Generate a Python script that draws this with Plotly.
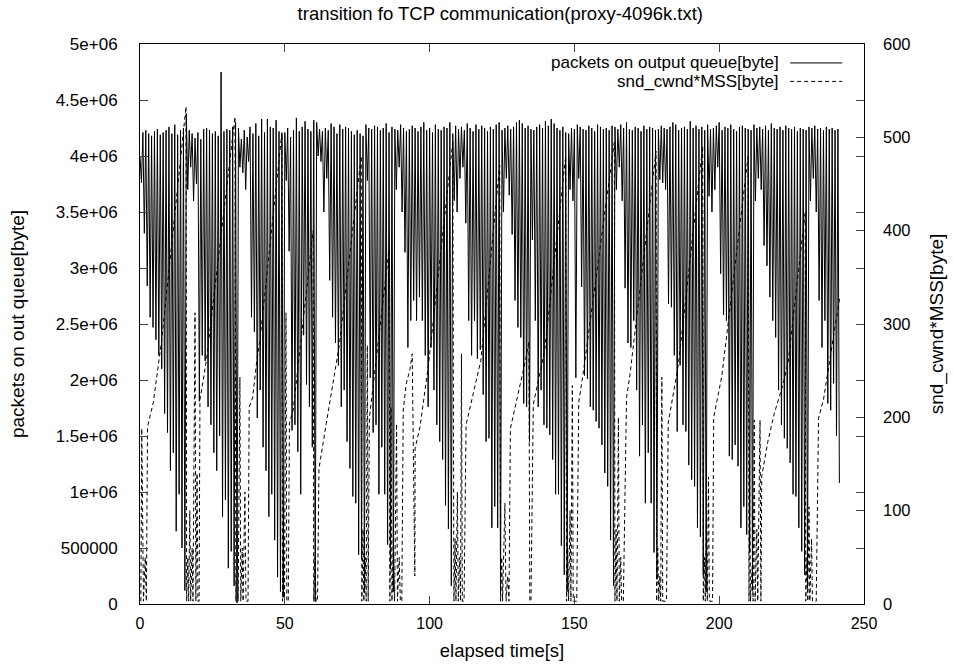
import plotly.graph_objects as go

# output queue, sampled every 0.5 s: peak at t=k, trough at t=k+0.5 (kbyte)
queue_peak_kb = [
    4000, 4210, 4230, 4200, 4180, 4220, 4240, 4190, 4210, 4230, 4260, 4200, 4280, 4190, 4230, 4250, 4380, 4230, 4200, 4160,
    4210, 4150, 4240, 4250, 4230, 4200, 4220, 4180, 4750, 4220, 4240, 4230, 4260, 4300, 4250, 4150, 4230, 4170, 4260, 4200,
    4290, 4180, 4330, 4210, 4330, 4260, 4250, 4320, 4220, 4200, 4210, 4250, 4170, 4230, 4340, 4220, 4260, 4310, 4240, 4220,
    4320, 4300, 4240, 4220, 4250, 4230, 4290, 4260, 4200, 4280, 4240, 4260, 4250, 4220, 4190, 4230, 4200, 4180, 4280, 4250,
    4240, 4270, 4260, 4230, 4250, 4290, 4210, 4260, 4240, 4230, 4280, 4250, 4220, 4240, 4270, 4250, 4220, 4260, 4300, 4230,
    4250, 4210, 4280, 4240, 4230, 4260, 4250, 4300, 4200, 4270, 4240, 4260, 4230, 4290, 4250, 4220, 4280, 4240, 4270, 4250,
    4220, 4260, 4240, 4280, 4300, 4230, 4250, 4270, 4240, 4260, 4300, 4320, 4290, 4250, 4270, 4240, 4230, 4260, 4280, 4250,
    4310, 4270, 4330, 4290, 4250, 4230, 4260, 4210, 4200, 4250, 4240, 4280, 4260, 4240, 4230, 4270, 4250, 4220, 4280, 4260,
    4240, 4250, 4230, 4270, 4260, 4240, 4280, 4250, 4300, 4240, 4230, 4260, 4250, 4220, 4270, 4240, 4260, 4250, 4230, 4240,
    4270, 4250, 4240, 4260, 4300, 4280, 4230, 4250, 4260, 4240, 4310, 4250, 4270, 4240, 4260, 4230, 4280, 4240, 4250, 4270,
    4300, 4230, 4260, 4250, 4280, 4240, 4220, 4260, 4270, 4250, 4240, 4230, 4280, 4250, 4260, 4240, 4270, 4230, 4290, 4250,
    4240, 4260, 4230, 4270, 4250, 4240, 4260, 4220, 4250, 4240, 4230, 4260, 4250, 4270, 4240, 4250, 4230, 4260, 4240, 4250,
    4230, 4240,
]
queue_trough_kb = [
    3760, 3310, 2840, 2560, 2470, 2360, 2220, 2100, 1700, 1530, 1190, 1350, 650, 980, 500, 120,
    3700, 3900, 3600, 3750,
    1810, 2220, 2170, 1760, 1600, 1350, 1190, 1500, 780, 930, 320, 470, 160,
    10,
    3900, 3850, 3700, 3950,
    2560, 2430, 1660, 1910, 1400, 1190, 780, 980, 570, 240, 110, 60,
    3780, 3150, 1550, 1600, 1360, 980, 2400, 1960, 1760, 1400,
    20,
    4000, 3950, 3500, 3800,
    2890, 2560, 2330, 2130, 1760, 1910, 1450, 1210, 960, 900, 440, 400,
    100,
    3780, 2020, 1530, 1600, 980, 1400, 980, 530, 310, 110,
    3700, 3900, 3500,
    3140, 2290, 2530, 2710, 2530, 2740, 2530, 2220, 1760, 2290, 1910, 1600, 1450, 1290, 880, 670, 160,
    3600, 3500, 3800, 3900, 3400,
    2530, 2220, 2530, 2190, 2270, 1870, 1450, 1480, 680, 870, 680, 110,
    3500, 3800, 3650, 3300,
    2710, 2470, 2380, 1790, 1760, 1450,
    3250, 2530, 1760, 1910, 1600, 1570, 1510, 1290, 980, 980, 520, 260,
    110,
    3700, 3600, 2020, 3800,
    2830, 2040, 2010, 1760, 1730, 1630, 1570, 1420, 1170, 1050, 570, 160,
    3700, 3900, 3600,
    2820, 2330, 2290, 2530, 1910, 1320, 1600, 900, 1350, 900, 460, 220,
    3790, 3760, 3700,
    2680, 2650, 2220, 1540, 2130, 1600, 1540, 1240, 1110, 1050, 680, 600, 260, 110,
    3640, 3500, 3700, 3900,
    2950, 2580, 2530, 1320, 1290, 1420, 1230, 680, 870, 620, 460, 120,
    3600, 3800, 3700,
    3200, 3020, 2740, 2530, 2380, 1910, 1600, 1480, 1390, 1260, 980, 960, 680, 470, 260, 140,
    3600, 3800, 3500,
    2710, 2290, 2530, 1790, 1730, 1970, 1500, 1080,
]

# snd_cwnd samples (time [s], value)
cwnd_t = [
    0.3, 0.6, 1.2, 1.8, 2.2, 2.6, 4.6, 5.5, 6.3, 7.5, 15.9,
    16.1, 16.5, 16.8, 17.2, 17.5, 18.0, 18.3, 19.0, 19.3, 19.7, 20.0, 20.4, 20.7, 21.9, 23.0, 32.8,
    33.1, 33.5, 33.9, 34.5, 34.8, 35.3, 35.6, 36.2, 36.6, 37.3, 37.7, 38.9, 40.3, 41.4, 49.0,
    49.2, 49.6, 49.9, 50.4, 50.7, 51.2, 51.6, 52.9, 59.8,
    60.0, 60.4, 60.8, 61.3, 61.8, 64.3, 66.6, 67.7, 68.8, 76.4,
    76.6, 77.0, 77.3, 77.8, 78.1, 78.5, 78.8, 79.2, 86.0,
    86.3, 86.7, 87.0, 87.5, 87.9, 88.6, 88.9, 89.5, 89.9, 90.4, 90.9, 92.0, 93.2, 94.0, 94.9, 95.0, 96.7, 98.4, 99.6, 108.0,
    108.4, 108.8, 109.1, 109.6, 109.9, 110.4, 110.7, 111.0, 111.3, 111.9, 112.6, 117.7, 124.2,
    124.5, 124.9, 125.2, 126.0, 126.4, 127.0, 127.4, 127.9, 131.4, 133.0, 134.3, 134.6, 135.0, 135.8, 139.7, 147.0,
    147.3, 147.7, 148.0, 148.5, 148.8, 149.3, 149.6, 150.8, 151.5, 153.2, 163.8,
    164.0, 164.4, 164.7, 165.2, 165.5, 166.0, 166.3, 166.9, 168.0, 169.2, 178.2,
    178.4, 178.8, 179.1, 179.5, 179.8, 180.2, 180.5, 181.8, 182.4, 183.2, 185.0, 186.0, 194.3,
    194.5, 194.9, 195.2, 195.6, 195.9, 196.3, 196.6, 197.7, 198.1, 200.9, 210.0,
    210.3, 210.5, 210.8, 211.4, 211.7, 212.1, 212.4, 213.0, 213.3, 214.1, 214.4, 214.7, 216.8, 219.0, 222.0, 223.8, 229.7,
    229.9, 230.3, 230.6, 231.0, 231.3, 231.9, 232.2, 233.5, 234.3, 236.0, 241.7,
]
cwnd = [
    3, 188, 3, 50, 3, 190, 216, 238, 260, 283, 533,
    3, 50, 3, 100, 3, 60, 3, 312, 3, 140, 3, 3, 219, 241, 263, 522,
    3, 80, 3, 243, 3, 60, 3, 120, 3, 3, 211, 221, 260, 282, 505,
    3, 100, 3, 312, 3, 3, 194, 208, 400,
    3, 50, 3, 3, 145, 193, 236, 260, 277, 480,
    3, 80, 3, 50, 3, 277, 3, 199, 380,
    3, 211, 3, 70, 3, 193, 3, 50, 3, 3, 208, 237, 251, 268, 30, 167, 190, 230, 256, 495,
    3, 70, 3, 120, 3, 50, 3, 268, 3, 3, 192, 261, 470,
    3, 50, 3, 108, 3, 30, 3, 188, 237, 259, 281, 3, 3, 214, 271, 480,
    3, 60, 3, 100, 3, 234, 3, 3, 216, 251, 495,
    3, 80, 3, 200, 3, 50, 3, 3, 221, 246, 485,
    3, 60, 3, 30, 3, 243, 3, 3, 194, 207, 240, 259, 490,
    3, 50, 3, 90, 3, 136, 3, 3, 200, 244, 480,
    3, 151, 3, 40, 3, 197, 3, 80, 3, 197, 3, 137, 174, 204, 235, 259, 420,
    3, 50, 3, 104, 3, 70, 3, 3, 199, 219, 330,
]

y_tickvals = [0, 500000, 1000000, 1500000, 2000000, 2500000, 3000000, 3500000, 4000000, 4500000, 5000000]
y_ticktext = ["0", "500000", "1e+06", "1.5e+06", "2e+06", "2.5e+06", "3e+06", "3.5e+06", "4e+06", "4.5e+06", "5e+06"]

title = "transition fo TCP communication(proxy-4096k.txt)"
legend_names = ["packets on output queue[byte]", "snd_cwnd*MSS[byte]"]

queue = []
for p, q in zip(queue_peak_kb, queue_trough_kb):
    queue += [p * 1000, q * 1000]

FONT = "Liberation Sans, Arial, sans-serif"
DASH = "4px,3px"

fig = go.Figure()
fig.add_trace(go.Scatter(x0=0, dx=0.5, y=queue, mode="lines", name=legend_names[0],
                         line=dict(color="black", width=1)))
fig.add_trace(go.Scatter(x=cwnd_t, y=cwnd, mode="lines", name=legend_names[1], yaxis="y2",
                         line=dict(color="black", width=1, dash=DASH)))

# gnuplot style key: text on the left, line sample on the right
for i, (name, dash) in enumerate(zip(legend_names, ["solid", DASH])):
    yy = 0.9662 - i * 0.033
    fig.add_annotation(x=0.886, y=yy, xref="paper", yref="paper", text=name, showarrow=False,
                       xanchor="right", yanchor="middle", font=dict(size=17, color="black"))
    fig.add_shape(type="line", xref="paper", yref="paper", x0=0.898, x1=0.97, y0=yy, y1=yy,
                  line=dict(color="black", width=1, dash=dash))

fig.update_layout(
    width=953, height=666,
    margin=dict(l=140, r=89, t=44, b=62),
    paper_bgcolor="white", plot_bgcolor="white",
    font=dict(family=FONT, size=16, color="black"),
    showlegend=False,
    title=dict(text=title, x=0.525, xanchor="center", y=0.98, yanchor="middle",
               font=dict(size=18.5)),
    xaxis=dict(range=[0, 250], tickvals=[0, 50, 100, 150, 200, 250], ticks="inside", ticklen=8,
               showline=True, linecolor="black", linewidth=1, mirror="ticks", showgrid=False,
               zeroline=False, ticklabelstandoff=5, tickfont=dict(size=16), automargin=False,
               title=dict(text="elapsed time[s]", standoff=12, font=dict(size=18.5))),
    yaxis=dict(range=[0, 5000000], tickvals=y_tickvals, ticktext=y_ticktext, ticks="inside",
               ticklen=8, showline=True, linecolor="black", linewidth=1, mirror="ticks",
               showgrid=False, zeroline=False, ticklabelstandoff=18, tickfont=dict(size=17),
               automargin=False,
               title=dict(text="packets on out queue[byte]", standoff=26, font=dict(size=19))),
    yaxis2=dict(range=[0, 600], tickvals=[0, 100, 200, 300, 400, 500, 600], overlaying="y",
                side="right", ticks="inside", ticklen=8, showline=False, showgrid=False,
                zeroline=False, ticklabelstandoff=18, tickfont=dict(size=16.5), automargin=False,
                title=dict(text="snd_cwnd*MSS[byte]", standoff=20, font=dict(size=19))),
)

# page body margin would shift the figure by 8px
fig.write_html("out.html", config={"displayModeBar": False},
               post_script="document.body.style.margin='0';")
